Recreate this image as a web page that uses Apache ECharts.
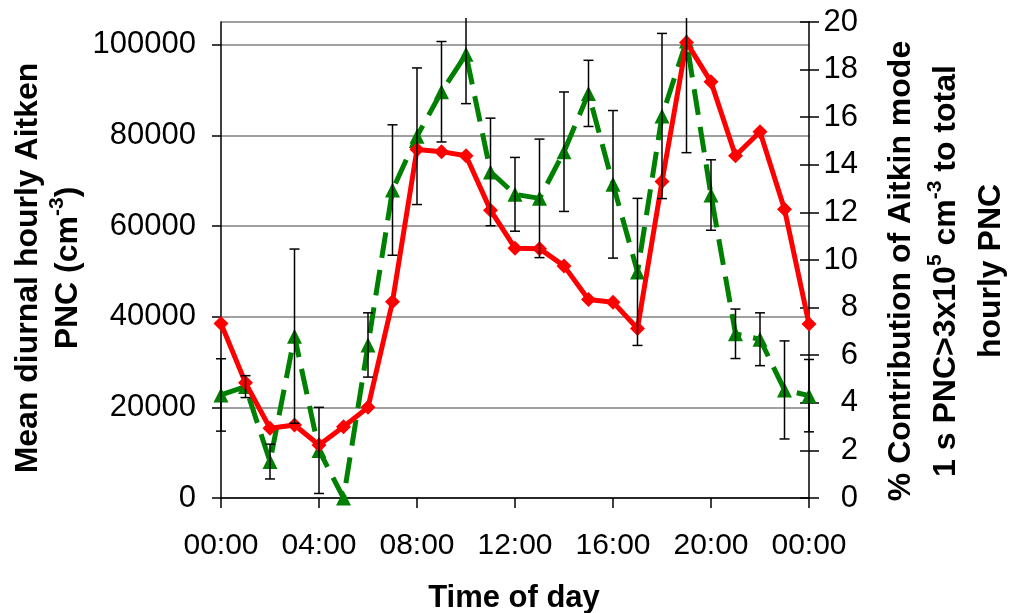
<!DOCTYPE html>
<html lang="en">
<head>
    <meta charset="UTF-8">
    <title>Aitken mode PNC - diurnal</title>
    <script src="https://cdn.jsdelivr.net/npm/echarts@6/dist/echarts.min.js"></script>
</head>
<body style="margin:0">
<div id="main" style="width:1009px;height:613px"></div>
<script type="text/javascript">
    // hour of day, 0..24 (24 = midnight again)
    var hours = [0, 1, 2, 3, 4, 5, 6, 7, 8, 9, 10, 11, 12, 13, 14, 15, 16, 17, 18, 19, 20, 21, 22, 23, 24];
    var tickLabels = ['00:00', '04:00', '08:00', '12:00', '16:00', '20:00', '00:00'];
    // mean diurnal hourly Aitken PNC (cm-3), left axis
    var pnc = [38500, 25400, 15400, 16100, 11700, 15700, 20000, 43300, 76900, 76400, 75500, 63500, 55100,
        55000, 51200, 43800, 43200, 37400, 69800, 100500, 91800, 75500, 80800, 63700, 38400];
    // % contribution of Aitken mode, right axis
    var pct = [4.33, 4.68, 1.53, 6.8, 2.0, 0.0, 6.43, 12.94, 15.2, 17.07, 18.64, 13.7, 12.76,
        12.59, 14.55, 17.0, 13.18, 9.5, 16.05, 19.2, 12.73, 6.9, 6.67, 4.54, 4.3];
    // error bar half lengths for the % series
    var pctErr = [1.52, 0.46, 0.73, 3.66, 1.81, null, 1.35, 2.74, 2.87, 2.11, 2.07, 2.26, 1.55,
        2.49, 2.51, 1.39, 3.10, 3.09, 3.47, 4.69, 1.48, 1.04, 1.11, 2.06, 1.52];

    var font = "'Liberation Sans', Arial, sans-serif";

    var pncData = hours.map(function (h, i) { return [h, pnc[i]]; });
    var pctData = hours.map(function (h, i) { return [h, pct[i]]; });
    var errData = hours.map(function (h, i) { return [h, pct[i], pctErr[i]]; });

    var myChart = echarts.init(document.getElementById('main'));
    var option = {
        animation: false,
        backgroundColor: '#fff',
        grid: {left: 221, right: 200, top: 22, bottom: 115},
        xAxis: {
            type: 'value',
            min: 0,
            max: 24,
            interval: 4,
            axisLine: {lineStyle: {color: '#000', width: 1.5}},
            axisTick: {length: 10, lineStyle: {color: '#000', width: 1.5}},
            splitLine: {show: false},
            axisLabel: {
                margin: 33,
                color: '#000',
                fontSize: 30,
                fontFamily: font,
                formatter: function (v) { return tickLabels[v / 4]; }
            }
        },
        yAxis: [{
            // left: PNC
            type: 'value',
            position: 'left',
            min: 0,
            max: 105000,
            interval: 20000,
            axisLine: {show: true, lineStyle: {color: '#000', width: 1.5}},
            axisTick: {show: true, length: 9, lineStyle: {color: '#000', width: 1.5}},
            splitLine: {show: true, lineStyle: {color: '#808080', width: 1.5}},
            axisLabel: {
                margin: 25,
                color: '#000',
                fontSize: 31,
                fontFamily: font,
                showMaxLabel: false,
                formatter: function (v) { return String(v); }
            }
        }, {
            // right: % contribution
            type: 'value',
            position: 'right',
            min: 0,
            max: 20,
            interval: 2,
            axisLine: {show: true, lineStyle: {color: '#000', width: 1.5}},
            axisTick: {show: true, length: 10, lineStyle: {color: '#000', width: 1.5}},
            splitLine: {show: false},
            axisLabel: {
                margin: 49,
                align: 'right',
                color: '#000',
                fontSize: 31,
                fontFamily: font
            }
        }, {
            // inner half of the crossing ticks on the right
            type: 'value',
            position: 'right',
            min: 0,
            max: 20,
            interval: 2,
            axisLine: {show: false},
            axisTick: {show: true, inside: true, length: 9, lineStyle: {color: '#000', width: 1.5}},
            splitLine: {show: false},
            axisLabel: {show: false}
        }],
        graphic: [{
            type: 'text',
            x: 48,
            y: 268,
            rotation: Math.PI / 2,
            style: {
                text: 'Mean diurnal hourly Aitken\nPNC (cm{sup|-3})',
                align: 'center',
                verticalAlign: 'middle',
                fontSize: 32,
                fontWeight: 'bold',
                fontFamily: font,
                lineHeight: 40,
                fill: '#000',
                rich: {sup: {fontSize: 21, fontWeight: 'bold', fontFamily: font, padding: [0, 0, 22, 0]}}
            }
        }, {
            type: 'text',
            x: 946,
            y: 271,
            rotation: Math.PI / 2,
            style: {
                text: '% Contribution of Aitkin mode\n1 s PNC>3x10{sup|5} cm{sup|-3} to total\nhourly PNC',
                align: 'center',
                verticalAlign: 'middle',
                fontSize: 32,
                fontWeight: 'bold',
                fontFamily: font,
                lineHeight: 45,
                fill: '#000',
                rich: {sup: {fontSize: 21, fontWeight: 'bold', fontFamily: font, padding: [0, 0, 22, 0]}}
            }
        }, {
            type: 'text',
            x: 514,
            y: 598,
            style: {
                text: 'Time of day',
                align: 'center',
                verticalAlign: 'middle',
                fontSize: 31,
                fontWeight: 'bold',
                fontFamily: font,
                fill: '#000'
            }
        }],
        series: [{
            name: 'PNC',
            type: 'line',
            yAxisIndex: 0,
            data: pncData,
            symbol: 'diamond',
            symbolSize: 15,
            lineStyle: {color: '#ff0000', width: 5},
            itemStyle: {color: '#ff0000'},
            z: 3
        }, {
            name: 'Contribution',
            type: 'line',
            yAxisIndex: 1,
            data: pctData,
            symbol: 'triangle',
            symbolSize: 15,
            lineStyle: {color: '#008000', width: 5, type: [26, 12]},
            itemStyle: {color: '#008000'},
            z: 2
        }, {
            name: 'error',
            type: 'custom',
            yAxisIndex: 1,
            data: errData,
            encode: {x: 0, y: 1},
            clip: false,
            z: 5,
            renderItem: function (params, api) {
                var e = api.value(2);
                if (!e) return;
                var x = api.value(0), y = api.value(1);
                var top = api.coord([x, y + e]);
                var bot = api.coord([x, y - e]);
                var ylim = params.coordSys.y - 4;
                var t = Math.max(top[1], ylim);
                var st = {stroke: '#000', lineWidth: 1.5};
                var kids = [
                    {type: 'line', shape: {x1: top[0], y1: t, x2: top[0], y2: bot[1]}, style: st},
                    {type: 'line', shape: {x1: bot[0] - 5, y1: bot[1], x2: bot[0] + 5, y2: bot[1]}, style: st}
                ];
                if (top[1] >= ylim) {
                    kids.push({type: 'line', shape: {x1: top[0] - 5, y1: top[1], x2: top[0] + 5, y2: top[1]}, style: st});
                }
                return {type: 'group', children: kids};
            }
        }]
    };
    myChart.setOption(option);
</script>
</body>
</html>
